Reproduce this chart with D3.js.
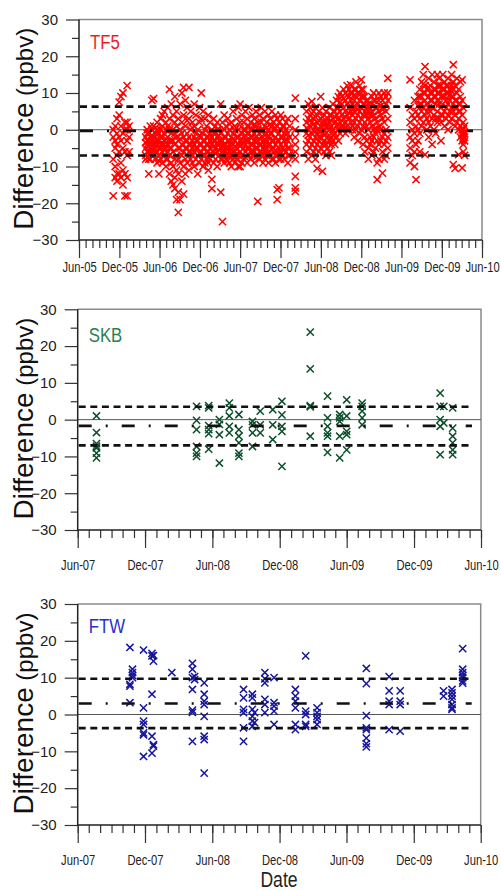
<!DOCTYPE html>
<html>
<head>
<meta charset="utf-8">
<script src="https://cdn.jsdelivr.net/npm/d3@7"></script>
<style>
body { margin: 0; background: #fff; }
svg { display: block; }
</style>
</head>
<body>
<div id="chart"></div>
<script>
// y axis ticks shared by all three panels
var yTickValues = [-30, -20, -10, 0, 10, 20, 30];
var yMinorValues = [-25, -15, -5, 5, 15, 25];

// x tick labels
var tf5TickLabels = ["Jun-05","Dec-05","Jun-06","Dec-06","Jun-07","Dec-07","Jun-08","Dec-08","Jun-09","Dec-09","Jun-10"];
var siteTickLabels = ["Jun-07","Dec-07","Jun-08","Dec-08","Jun-09","Dec-09","Jun-10"];

// reference lines: upper, mean, lower
var tf5Lines = [6.3, -0.3, -7.0];
var skbLines = [3.5, -1.7, -7.0];
var ftwLines = [9.7, 3.0, -3.7];

// differences (ppbv), grouped by date
var tf5 = [
  ["2005-11-03", [0, -2, -8, -18]],
  ["2005-11-12", [1, -3, -5, -10, -13]],
  ["2005-11-20", [3, -1, -4, -7, -12, -14]],
  ["2005-11-30", [7.5, 4, -2, -6, -12]],
  ["2005-12-08", [9, 1, -3, -9, -13]],
  ["2005-12-17", [10, -1, -5, -15, -11]],
  ["2005-12-26", [0, -6, -12, -18, 2]],
  ["2006-01-05", [12, 2, -3, -7, -13, -18, 0]],
  ["2006-01-14", [1, -6, -2]],
  ["2006-03-30", [-2, -5, -7, -8, -3.5]],
  ["2006-04-06", [0, -4, -6, -3, -1, -7.5]],
  ["2006-04-13", [-3, -6, -1, -12, -8, -4.5]],
  ["2006-04-20", [-5, -2, -8, 1, -4, -6.5]],
  ["2006-04-27", [8, -3, -6, 0, -7, -1.5]],
  ["2006-05-05", [8.5, -4, -7, -2, 1, -5]],
  ["2006-05-13", [-1, -5, -8, -3, -6, 0.5]],
  ["2006-05-21", [0, -6, -4, 2, -9, -2.5]],
  ["2006-05-29", [-12, -3, -7, -1, -5, -8.5]],
  ["2006-06-06", [-4, -8, 0, -5, 3, -2]],
  ["2006-06-14", [-2, -6, 1, -9, 4, -4]],
  ["2006-06-22", [5, -3, -7, -1, -4, -5.5]],
  ["2006-06-30", [2, -5, -8, 0, -10, -2.5]],
  ["2006-07-08", [6, -2, -6, -4, 1, -8]],
  ["2006-07-16", [11, 3, -3, -7, -12, 0, -5]],
  ["2006-07-24", [7, -1, -5, -9, -14, -3]],
  ["2006-08-01", [4, 0, -6, -10, -15, -3]],
  ["2006-08-09", [9, 2, -4, -8, -13, -16, -1]],
  ["2006-08-17", [5, -2, -7, -11, -19, 1]],
  ["2006-08-25", [3, -3, -8, -12, -22.5, -17, -5]],
  ["2006-09-02", [7, 0, -5, -9, -19, -2.5]],
  ["2006-09-10", [10, 2, -4, -7, -14, -1]],
  ["2006-09-18", [11.5, 4, -2, -6, -10, -17.5]],
  ["2006-09-26", [8, 1, -3, -8, -12, -5]],
  ["2006-10-04", [6, -1, -5, -9, 2.5, -3]],
  ["2006-10-12", [11.5, 3, -2, -6, -11, -4]],
  ["2006-10-20", [5, 0, -4, -8, -6]],
  ["2006-10-28", [2, -3, -7, -9, -5, 0.5]],
  ["2006-11-05", [7, 1, -2, -6, -10, -4]],
  ["2006-11-13", [4, -1, -5, -8, -3]],
  ["2006-11-21", [-3, -7, -12, 0, -5]],
  ["2006-11-29", [6, 2, -4, -9, -1.5, -6.5]],
  ["2006-12-07", [10, -2, -6, -8, 3, -4]],
  ["2006-12-15", [5, -1, -5, -10, -3, -7]],
  ["2006-12-23", [3, -3, -7, -9, 0, -5]],
  ["2006-12-31", [1, -4, -8, -6, -2]],
  ["2007-01-08", [4, -2, -6, -9, -11, -4]],
  ["2007-01-16", [2, -1, -5, -8, -3, -6.5]],
  ["2007-01-24", [0, -4, -7, -13.5, -16, -2]],
  ["2007-02-01", [3, -3, -6, -9, -1, -4.5]],
  ["2007-02-09", [-1, -5, -8, 1, -3, -6.5]],
  ["2007-02-17", [2, -2, -6, -10, -4, 0]],
  ["2007-02-25", [0, -4, -7, -3, -5.5, -1.5]],
  ["2007-03-05", [7, -1, -5, -8, -17, -3]],
  ["2007-03-13", [-25, 2, -3, -6, -4.5, -8]],
  ["2007-03-21", [4, -2, -7, -9, -4.5, 0]],
  ["2007-03-29", [1, -4, -6, -8, -2, -5]],
  ["2007-04-06", [3, -1, -5, -7, -3, -8.5]],
  ["2007-04-14", [0, -3, -6, -9, -4, 1.5]],
  ["2007-04-22", [2, -2, -7, -10, -4.5, -5.5]],
  ["2007-04-30", [5, -1, -4, -8, -2.5, -6]],
  ["2007-05-08", [1, -3, -6, -9, 0, -4.5]],
  ["2007-05-16", [3, -2, -5, -8, -6.5, 0.5]],
  ["2007-05-24", [6, 0, -4, -7, -10, -2]],
  ["2007-06-01", [7, 2, -3, -6, -10, -4.5]],
  ["2007-06-09", [4, -1, -4, -7, -9, -2.5]],
  ["2007-06-17", [2, -2, -5, -8, 0, -3.5]],
  ["2007-06-25", [5, 0, -3, -6, -1.5, -7.5]],
  ["2007-07-03", [3, -1, -5, -9, -3, 1]],
  ["2007-07-11", [6, 1, -3, -7, -5, -1]],
  ["2007-07-19", [2, -2, -6, -8, 0, -4]],
  ["2007-07-27", [4, 0, -4, -7, -2, -5.5]],
  ["2007-08-04", [3, -1, -3, -6, -9, 1.5]],
  ["2007-08-12", [5, 1, -2, -5, -7.5, -3.5]],
  ["2007-08-20", [-19.5, 2, -3, -7, 0, -5]],
  ["2007-08-28", [4, -1, -4, -8, -2.5, -6]],
  ["2007-09-05", [6, 2, -2, -6, -4, 0]],
  ["2007-09-13", [3, 0, -3, -7, -9, -5]],
  ["2007-09-21", [5, 1, -4, -8, -1.5, -6]],
  ["2007-09-29", [2, -1, -5, -3, -7, 0.5]],
  ["2007-10-07", [4, 0, -2, -6, -9, -4]],
  ["2007-10-15", [3, -1, -4, -7, -2.5, 1.5]],
  ["2007-10-23", [5, 1, -3, -8, -5.5, -1]],
  ["2007-10-31", [2, 0, -5, -6, -3, -8]],
  ["2007-11-08", [4, -2, -4, -7, -9, 0.5]],
  ["2007-11-16", [3, 1, -3, -16.3, -19, -6]],
  ["2007-11-24", [2, -1, -5, -8, -15.8, -3]],
  ["2007-12-02", [4, 0, -4, -6, -2, -8]],
  ["2007-12-10", [3, -2, -5, -7, 1]],
  ["2007-12-18", [1, -1, -3, -8, -5.5]],
  ["2007-12-26", [2, 0, -4, -6, -2.5]],
  ["2008-01-03", [3, -1, -3, -7, -9, -5]],
  ["2008-01-11", [1, -2, -5, -7]],
  ["2008-02-06", [8.6, 3, 0, -2, -4, -6, -8, -12.7, -15.8, -16.8]],
  ["2008-03-28", [5, 2, -1, -4, -6, 0.5]],
  ["2008-04-05", [7, 3, 0, -3, -8, -1.5]],
  ["2008-04-13", [4, 1, -2, -5, 6, 2.5]],
  ["2008-04-21", [7.7, 2, -1, -4, -7, 4.5]],
  ["2008-04-29", [5, 3, 0, -3, -6, 1.5]],
  ["2008-05-07", [6, 1, -2, -5, -8, 3.5]],
  ["2008-05-15", [4, 2, -1, -4, -10.5, 0]],
  ["2008-05-23", [5, 0, -3, -6, -2, 2.5]],
  ["2008-05-31", [9, 3, 1, -2, -5, -0.5]],
  ["2008-06-08", [6, 2, -1, -4, -11.3, 3.5]],
  ["2008-06-16", [4, 0, -3, -6, 1, -1.5]],
  ["2008-06-24", [5, 2, -1, -4, -7, 0.5]],
  ["2008-07-02", [3, 1, -2, -5, -3.5]],
  ["2008-07-10", [6, 2, 0, -3, -6, 4]],
  ["2008-07-18", [4, 1, -2, -4, -7, 2.5]],
  ["2008-07-26", [7, 3, 0, -3, -1.5]],
  ["2008-08-03", [5, 2, -1, -4, 3.5]],
  ["2008-08-11", [8, 4, 1, -2, 6]],
  ["2008-08-19", [6, 3, 0, -3, 9, 1.5]],
  ["2008-08-27", [10, 5, 2, -1, 7.5]],
  ["2008-09-04", [7, 4, 1, 0, 9, 2.5]],
  ["2008-09-12", [11, 6, 3, 1, 8.5]],
  ["2008-09-20", [8, 5, 2, -1, 10, 3.5]],
  ["2008-09-28", [12, 7, 4, 1, 9.5]],
  ["2008-10-06", [9, 6, 3, 0, 11, 4.5]],
  ["2008-10-14", [12.2, 8, 5, 2, 10]],
  ["2008-10-22", [10, 7, 4, 1, 0, 6]],
  ["2008-10-30", [11, 8, 5, 2, -2, 9.5]],
  ["2008-11-07", [13, 9, 6, 3, 0, 11]],
  ["2008-11-15", [10, 7, 4, 1, -3, 5.5]],
  ["2008-11-23", [12, 8, 5, 2, -1, 9.5]],
  ["2008-12-01", [13.6, 9, 6, 3, 0, 11]],
  ["2008-12-09", [11, 7, 4, 1, -4, 9]],
  ["2008-12-17", [9, 5, 2, -2, -6, 7]],
  ["2008-12-25", [8, 4, 1, -3, 6]],
  ["2009-01-02", [7, 3, 0, -5, -8, 5]],
  ["2009-01-10", [6, 2, -2, -4, 4]],
  ["2009-01-18", [9, 5, 1, -3, -7, 7]],
  ["2009-01-26", [10, 4, 0, -2, -6, 8]],
  ["2009-02-03", [8, 3, -1, -5, 6]],
  ["2009-02-11", [6, 2, -3, -9, -13.6, 0]],
  ["2009-02-19", [10, 5, 1, -4, -8, 8]],
  ["2009-02-27", [9, 4, 0, -3, 6.5]],
  ["2009-03-07", [8, 3, -2, -6, -11.8, 5.5]],
  ["2009-03-15", [10, 6, 2, -1, -4, -8]],
  ["2009-03-23", [9, 5, 0, -3, -7, 7]],
  ["2009-03-31", [14, 8, 3, -2, -5, 10]],
  ["2009-07-10", [13.6, 6, 2, -2, -5, -9]],
  ["2009-07-20", [4, 0, -3, -7]],
  ["2009-07-30", [8, 3, -1, -6, -10]],
  ["2009-08-06", [5, 1, -4, -13.6]],
  ["2009-08-15", [9, 4, 0, -3, 6.5]],
  ["2009-08-23", [11, 7, 3, -1, -6, 9]],
  ["2009-08-31", [13, 9, 5, 1, 7]],
  ["2009-09-08", [15, 10, 6, 2, 12.5]],
  ["2009-09-16", [17.2, 12, 8, 4, -6.8, 10]],
  ["2009-09-24", [11, 7, 3, 0, 5]],
  ["2009-10-02", [14, 9, 6, 2, -2, 11.5]],
  ["2009-10-10", [12, 8, 5, 1, 10]],
  ["2009-10-18", [15, 10, 6, 3, -4, 8]],
  ["2009-10-26", [13, 9, 4, 0, 11]],
  ["2009-11-03", [11, 7, 3, -1, 9]],
  ["2009-11-11", [15, 12, 8, 5, 2, 10]],
  ["2009-11-19", [14, 10, 7, 3, 12]],
  ["2009-11-27", [12, 9, 6, 2, -3, 4]],
  ["2009-12-05", [15, 11, 7, 4, 9]],
  ["2009-12-13", [13, 9, 5, 1, 11]],
  ["2009-12-21", [12, 8, 6, 3, 10]],
  ["2009-12-29", [14, 10, 7, 4, 0, 12]],
  ["2010-01-06", [11, 8, 5, 2, 9.5]],
  ["2010-01-14", [15, 12, 9, 6, 3, 10.5]],
  ["2010-01-22", [17.7, 13, 9, 5, -9.5, 11]],
  ["2010-01-30", [12, 8, 4, 1, -10.5, 6]],
  ["2010-02-07", [14, 10, 6, 2, 8]],
  ["2010-02-15", [11, 7, 3, 0, -6.8, 5]],
  ["2010-02-23", [13, 9, 5, 1, -2, 7]],
  ["2010-03-03", [13.6, 8, 4, 0, -1, -3, -10.4]],
  ["2010-03-08", [6, 2, 0, -1, -2, -4, -6]],
  ["2010-03-14", [1, -1, -2, -3, -7]]
];

var skb = [
  ["2007-07-22", [1, -3.5, -6.5, -7.2, -7.7, -9.1, -10.4]],
  ["2008-04-19", [3.6, -0.2, -2.7, -7.3, -9.1, -10]],
  ["2008-05-22", [3.8, 3.2, -1.6, -2.7, -3.8, -8]],
  ["2008-06-20", [0, -1.3, -4.1, -11.8]],
  ["2008-07-17", [4.5, 3.2, 1, -1.8, -3.6]],
  ["2008-08-12", [1.4, -2.7, -4.5, -6.3, -9.1, -10]],
  ["2008-09-18", [-0.5, -1.4, -3.6, -7.3]],
  ["2008-10-09", [2.3, -1.4, -3.6]],
  ["2008-11-12", [2.7, -1.4, -5.4]],
  ["2008-12-07", [5, 1.3, -1.8, -3.2, -12.7]],
  ["2009-02-22", [23.8, 13.8, 3.8, 3.5, -4.5]],
  ["2009-04-10", [6.4, 0.5, -1.8, -3.6, -4.5, -8.9]],
  ["2009-05-13", [1.4, 0.5, -0.5, -4.5, -10.4]],
  ["2009-06-01", [5.4, 1, -3.2, -4.1, -8.2]],
  ["2009-07-13", [4.5, 3.6, 2.3, 0.5, -1.4]],
  ["2010-02-10", [7.2, 3.6, 0, -1.8, -9.5]],
  ["2010-02-20", [3.6, -0.9]],
  ["2010-03-16", [3.2, -2.3, -4.5, -6.3, -8.2, -9.5]]
];

var ftw = [
  ["2007-10-21", [18.2, 8.2, 7.7, 3.2]],
  ["2007-10-28", [12.3, 11.4, 10.6, 10]],
  ["2007-11-27", [17.5, 1.8, -1.8, -2.7, -5, -5.5, -11.4]],
  ["2007-12-20", [16.6, 15.9, 5.5, -5.9, -10.5]],
  ["2007-12-24", [16, 14.5, -8.6, -8.2]],
  ["2008-02-12", [11.4]],
  ["2008-04-08", [13.9, 12.3, 10, 6.8, 1.2, 0.6, -7.3]],
  ["2008-04-14", [10.3, 9.5]],
  ["2008-05-10", [8.6, 5.5, 3.6, 2.7, -0.5, -5.9, -6.8, -15.9]],
  ["2008-08-25", [6.8, 4.5, 1.4, 0.5, -3.6, -7.3]],
  ["2008-09-18", [5.5, 4.5, 1.4, -0.5, -1.8, -3.2]],
  ["2008-09-24", [0.5, -2.2]],
  ["2008-10-22", [11.4, 9.7, 8.6, 4.1, 2.7, 0.5]],
  ["2008-11-16", [10, 3.2, 2.3, 0.9, -2.7]],
  ["2009-01-13", [6.8, 5, 3.6, 1.8, -2.7, -4.1]],
  ["2009-02-10", [15.9, 0.9, 0, -2.7, -3.2]],
  ["2009-03-13", [1.8, 0.5, -0.5, -1.4, -2.7]],
  ["2009-07-25", [12.5, 8.4, -0.3, -3.6, -4.1, -6.4, -7.9, -8.8]],
  ["2009-09-25", [10.3, 6.4, 3.6, 2.7, -4.1]],
  ["2009-10-25", [6.4, 3.6, 2.7, -4.5]],
  ["2010-02-20", [6.4, 5]],
  ["2010-03-15", [6.8, 5.9, 5, 4.1, 2.7, 1.8, 1.4]],
  ["2010-04-13", [17.9, 12.3, 11.4, 10.6, 10, 9.1, 8.5]]
];

var parseDate = d3.timeParse("%Y-%m-%d");
var parseTick = d3.timeParse("%b-%y");

var SANS = "'Liberation Sans',Arial,sans-serif";
var SQUEEZE = 0.8; // no narrow face installed, so text is squeezed horizontally

var panels = [
  {name: "TF5", data: tf5, lines: tf5Lines, ticks: tf5TickLabels,
   mark: "#ff0000", labelColor: "#ee1c24",
   left: 79, right: 482, top: 19.5, bottom: 240, labelPad: 4, nameY: 49},
  {name: "SKB", data: skb, lines: skbLines, ticks: siteTickLabels,
   mark: "#0b4f2a", labelColor: "#2d7f52",
   left: 77.7, right: 481, top: 309.3, bottom: 530, labelPad: 12, nameY: 341.5},
  {name: "FTW", data: ftw, lines: ftwLines, ticks: siteTickLabels,
   mark: "#16169c", labelColor: "#2b2bd0",
   left: 77.7, right: 480.7, top: 604, bottom: 825, labelPad: 12, nameY: 633}
];

var svg = d3.select("#chart").append("svg")
  .attr("width", 501)
  .attr("height", 891);

panels.forEach(drawPanel);

svg.append("text")
  .attr("transform", "translate(279,887) scale(" + SQUEEZE + ",1)")
  .attr("text-anchor", "middle")
  .attr("font-family", SANS)
  .attr("font-size", 22)
  .attr("fill", "#222")
  .text("Date");

function flatten(groups) {
  var out = [];
  groups.forEach(function(g) {
    g[1].forEach(function(v) {
      out.push({date: parseDate(g[0]), value: v});
    });
  });
  return out;
}

function drawPanel(p) {
  var majorDates = p.ticks.map(function(t) { return parseTick(t); });
  var start = majorDates[0], end = majorDates[majorDates.length - 1];

  var x = d3.scaleTime().domain([start, end]).range([p.left, p.right]);
  var y = d3.scaleLinear().domain([-30, 30]).range([p.bottom, p.top]);
  var g = svg.append("g");

  // frame top and right
  g.append("path")
    .attr("d", "M" + p.left + "," + p.top + "H" + p.right + "V" + p.bottom)
    .attr("fill", "none")
    .attr("stroke", "#8a8a8a")
    .attr("stroke-width", 1.5);

  // zero line
  g.append("line")
    .attr("x1", p.left).attr("x2", p.right)
    .attr("y1", y(0)).attr("y2", y(0))
    .attr("stroke", "#555")
    .attr("stroke-width", 1);

  // points
  g.selectAll("path.pt")
    .data(flatten(p.data))
    .enter().append("path")
    .attr("class", "pt")
    .attr("d", "M-3.6,-3.6L3.6,3.6M-3.6,3.6L3.6,-3.6")
    .attr("transform", function(d) { return "translate(" + x(d.date) + "," + y(d.value) + ")"; })
    .attr("fill", "none")
    .attr("stroke", p.mark)
    .attr("stroke-width", 1.5);

  // reference lines
  p.lines.forEach(function(v, i) {
    g.append("line")
      .attr("x1", p.left + 1).attr("x2", p.right - 9)
      .attr("y1", y(v)).attr("y2", y(v))
      .attr("stroke", "#111")
      .attr("stroke-width", 2.6)
      .attr("stroke-dasharray", i === 1 ? "13,14,2,14" : "7,4.6");
  });

  // y axis
  var yMinor = g.append("g")
    .attr("transform", "translate(" + p.left + ",0)")
    .call(d3.axisLeft(y).tickValues(yMinorValues).tickSize(7).tickFormat(""));
  var yMajor = g.append("g")
    .attr("transform", "translate(" + p.left + ",0)")
    .call(d3.axisLeft(y).tickValues(yTickValues).tickSize(13).tickPadding(8).tickFormat(d3.format("d")));

  // x axis
  var months = d3.timeMonth.range(start, d3.timeDay.offset(end, 1));
  var xMinor = g.append("g")
    .attr("transform", "translate(0," + p.bottom + ")")
    .call(d3.axisBottom(x).tickValues(months).tickSize(8).tickFormat(""));
  var xMajor = g.append("g")
    .attr("transform", "translate(0," + p.bottom + ")")
    .call(d3.axisBottom(x).tickValues(majorDates).tickSize(18).tickPadding(p.labelPad)
      .tickFormat(function(d, i) { return p.ticks[i]; }));

  [yMinor, yMajor, xMinor, xMajor].forEach(function(a) {
    a.select(".domain").remove();
    a.selectAll(".tick line").attr("stroke", "#333").attr("stroke-width", 1.2);
  });
  yMajor.selectAll("text").attr("font-family", SANS).attr("font-size", 15).attr("fill", "#222");
  xMajor.selectAll("text")
    .attr("font-family", SANS)
    .attr("font-size", 14)
    .attr("fill", "#222")
    .attr("transform", "scale(" + SQUEEZE + ",1)");

  // left and bottom axis lines
  g.append("path")
    .attr("d", "M" + p.left + "," + p.top + "V" + p.bottom + "H" + p.right)
    .attr("fill", "none")
    .attr("stroke", "#222")
    .attr("stroke-width", 1.5);

  // station name
  g.append("text")
    .attr("transform", "translate(" + (p.left + 11) + "," + p.nameY + ") scale(" + SQUEEZE + ",1)")
    .attr("font-family", SANS)
    .attr("font-size", 21)
    .attr("fill", p.labelColor)
    .text(p.name);

  // y axis title
  var cy = (p.top + p.bottom) / 2 - 1;
  var title = g.append("text")
    .attr("transform", "translate(32.5," + cy + ") rotate(-90)")
    .attr("text-anchor", "middle")
    .attr("font-family", SANS)
    .attr("fill", "#111");
  title.append("tspan").attr("font-size", 28).text("Difference");
  title.append("tspan").attr("font-size", 24).text(" (ppbv)");
}
</script>
</body>
</html>
